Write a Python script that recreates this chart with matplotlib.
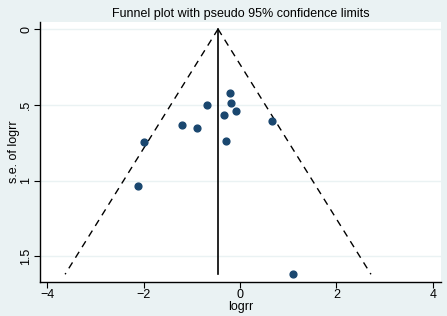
import numpy as np
import matplotlib
matplotlib.use("Agg")
import matplotlib.pyplot as plt

# study estimates
logrr = [-0.21, -0.19, -0.68, -0.08, -0.34, 0.66, -1.20, -0.90, -1.985, -0.29, -2.12, 1.106]
se_logrr = [0.424, 0.486, 0.504, 0.539, 0.568, 0.605, 0.634, 0.651, 0.744, 0.739, 1.038, 1.619]
pooled = -0.456
x_ticks = [-4, -2, 0, 2, 4]
y_ticks = [0, 0.5, 1, 1.5]
y_tick_labels = ["0", ".5", "1", "1.5"]

BG = "#eaf2f3"
NAVY = "#1a476f"

plt.rcParams["font.family"] = ["Liberation Sans", "DejaVu Sans"]

fig = plt.figure(figsize=(4.47, 3.16), dpi=100, facecolor=BG)
ax = fig.add_axes([0.0895, 0.1085, 0.897, 0.8215])
ax.set_facecolor("white")

se_max = max(se_logrr)
se_line = np.array([0, se_max])
ax.plot(pooled - 1.96 * se_line, se_line, color="black", ls=(0, (5, 4)), lw=1.0)
ax.plot(pooled + 1.96 * se_line, se_line, color="black", ls=(0, (5, 4)), lw=1.0)
ax.plot([pooled, pooled], se_line, color="black", lw=1.2)
ax.scatter(logrr, se_logrr, s=24, color=NAVY, zorder=3, edgecolors=NAVY)

ax.set_xlim(-4.15, 4.17)
ax.set_ylim(1.668, -0.046)
ax.set_xticks(x_ticks)
ax.set_yticks(y_ticks)
ax.set_yticklabels(y_tick_labels, rotation=90, va="center")
ax.tick_params(labelsize=9, length=4, width=0.8, color="black", pad=1.5)
for yt in y_ticks:
    ax.axhline(yt, color=BG, lw=1.0, zorder=0)

for side in ("top", "right"):
    ax.spines[side].set_visible(False)
for side in ("left", "bottom"):
    ax.spines[side].set_linewidth(1.0)

ax.set_xlabel("logrr", fontsize=9, labelpad=0)
ax.set_ylabel("s.e. of logrr", fontsize=9, labelpad=0)
ax.set_title("Funnel plot with pseudo 95% confidence limits", fontsize=9, pad=4)

fig.savefig("out.png", dpi=100, facecolor=BG)
